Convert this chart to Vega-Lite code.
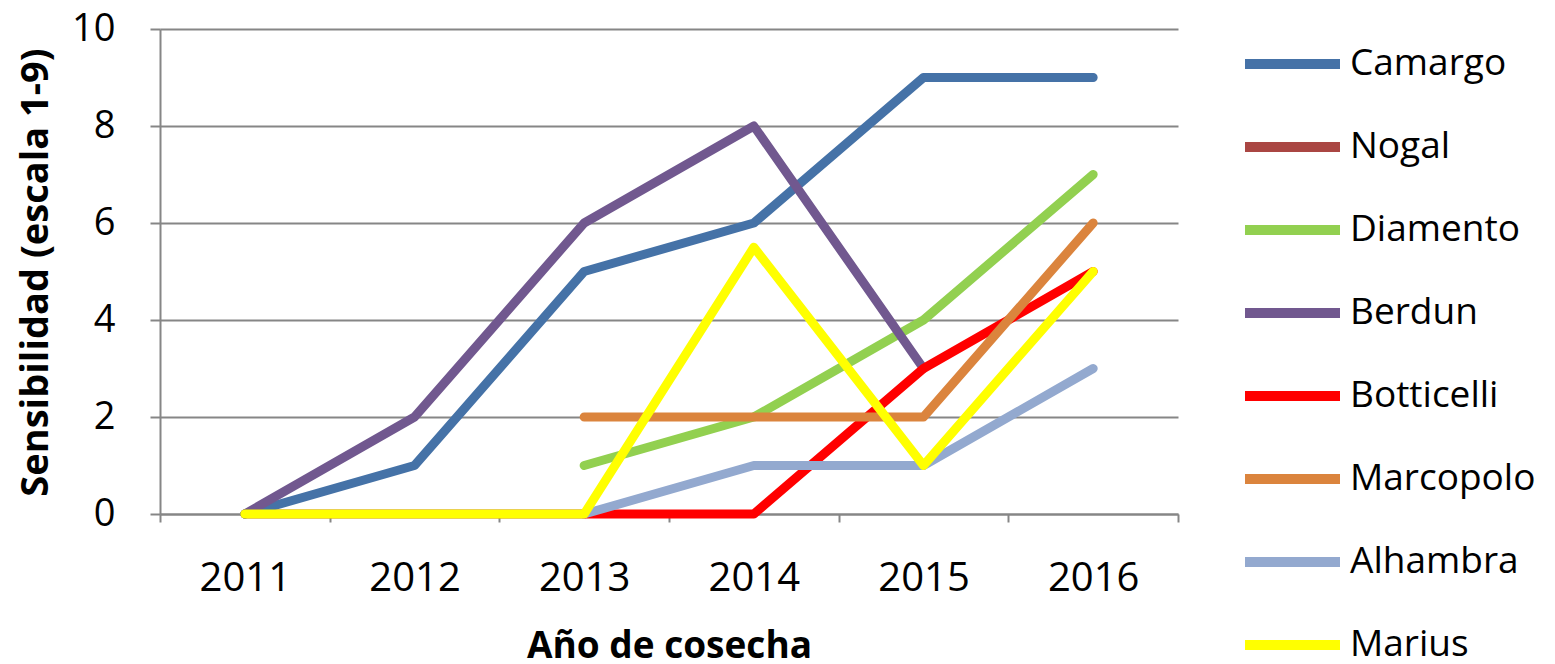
{
  "$schema": "https://vega.github.io/schema/vega-lite/v6.json",
  "autosize": "none",
  "width": 1018,
  "height": 485,
  "padding": {"left": 160, "top": 29, "right": 377, "bottom": 150},
  "background": "white",
  "config": {
    "view": {"stroke": null},
    "font": "Open Sans",
    "axis": {"labelFont": "Open Sans", "titleFont": "Open Sans", "labelColor": "black", "titleColor": "black"},
    "legend": {"labelFont": "Open Sans"}
  },
  "data": {
    "values": [
      {"variety": "Nogal", "year": "2011", "value": 0},
      {"variety": "Nogal", "year": "2012", "value": 0},
      {"variety": "Nogal", "year": "2013", "value": 0},
      {"variety": "Camargo", "year": "2011", "value": 0},
      {"variety": "Camargo", "year": "2012", "value": 1},
      {"variety": "Camargo", "year": "2013", "value": 5},
      {"variety": "Camargo", "year": "2014", "value": 6},
      {"variety": "Camargo", "year": "2015", "value": 9},
      {"variety": "Camargo", "year": "2016", "value": 9},
      {"variety": "Diamento", "year": "2013", "value": 1},
      {"variety": "Diamento", "year": "2014", "value": 2},
      {"variety": "Diamento", "year": "2015", "value": 4},
      {"variety": "Diamento", "year": "2016", "value": 7},
      {"variety": "Berdun", "year": "2011", "value": 0},
      {"variety": "Berdun", "year": "2012", "value": 2},
      {"variety": "Berdun", "year": "2013", "value": 6},
      {"variety": "Berdun", "year": "2014", "value": 8},
      {"variety": "Berdun", "year": "2015", "value": 3},
      {"variety": "Botticelli", "year": "2013", "value": 0},
      {"variety": "Botticelli", "year": "2014", "value": 0},
      {"variety": "Botticelli", "year": "2015", "value": 3},
      {"variety": "Botticelli", "year": "2016", "value": 5},
      {"variety": "Marcopolo", "year": "2013", "value": 2},
      {"variety": "Marcopolo", "year": "2014", "value": 2},
      {"variety": "Marcopolo", "year": "2015", "value": 2},
      {"variety": "Marcopolo", "year": "2016", "value": 6},
      {"variety": "Alhambra", "year": "2013", "value": 0},
      {"variety": "Alhambra", "year": "2014", "value": 1},
      {"variety": "Alhambra", "year": "2015", "value": 1},
      {"variety": "Alhambra", "year": "2016", "value": 3},
      {"variety": "Marius", "year": "2011", "value": 0},
      {"variety": "Marius", "year": "2012", "value": 0},
      {"variety": "Marius", "year": "2013", "value": 0},
      {"variety": "Marius", "year": "2014", "value": 5.5},
      {"variety": "Marius", "year": "2015", "value": 1},
      {"variety": "Marius", "year": "2016", "value": 5}
    ]
  },
  "mark": {"type": "line", "strokeWidth": 9, "strokeCap": "round", "strokeJoin": "round"},
  "encoding": {
    "x": {
      "field": "year",
      "type": "ordinal",
      "bandPosition": 0.5,
      "scale": {"type": "band", "paddingInner": 0, "paddingOuter": 0},
      "axis": {
        "tickBand": "extent",
        "labelAngle": 0,
        "labelFontSize": 40,
        "labelBaseline": "middle",
        "labelPadding": 56,
        "tickSize": 8,
        "tickWidth": 2,
        "tickColor": "#868686",
        "domainColor": "#868686",
        "domainWidth": 2,
        "grid": false,
        "title": "Año de cosecha",
        "titleFontSize": 37,
        "titleFontWeight": "bold",
        "titleBaseline": "middle",
        "titleX": 509,
        "titleY": 132
      }
    },
    "y": {
      "field": "value",
      "type": "quantitative",
      "scale": {"domain": [0, 10], "nice": false},
      "axis": {
        "values": [0, 2, 4, 6, 8, 10],
        "labelFontSize": 38,
        "labelPadding": 35,
        "tickSize": 10,
        "tickWidth": 2,
        "tickColor": "#868686",
        "domainColor": "#868686",
        "domainWidth": 2,
        "grid": true,
        "gridColor": "#868686",
        "gridWidth": 2,
        "title": "Sensibilidad  (escala 1-9)",
        "titleFontSize": 38,
        "titleFontWeight": "bold",
        "titleAngle": 270,
        "titleAlign": "center",
        "titleBaseline": "middle",
        "titleX": -124,
        "titleY": 243
      }
    },
    "color": {
      "field": "variety",
      "type": "nominal",
      "scale": {
        "domain": ["Camargo", "Nogal", "Diamento", "Berdun", "Botticelli", "Marcopolo", "Alhambra", "Marius"],
        "range": ["#4572A7", "#AA4643", "#92D050", "#71588F", "#FF0000", "#DB843D", "#93A9CF", "#FFFF00"]
      },
      "legend": {
        "title": null,
        "orient": "none",
        "legendX": 1085,
        "legendY": 15,
        "padding": 0,
        "symbolType": "stroke",
        "symbolSize": 9025,
        "symbolStrokeWidth": 10,
        "symbolOffset": -5,
        "labelFontSize": 37,
        "labelOffset": 5,
        "labelLimit": 300,
        "labelColor": "black",
        "clipHeight": 40,
        "rowPadding": 43
      }
    }
  }
}
